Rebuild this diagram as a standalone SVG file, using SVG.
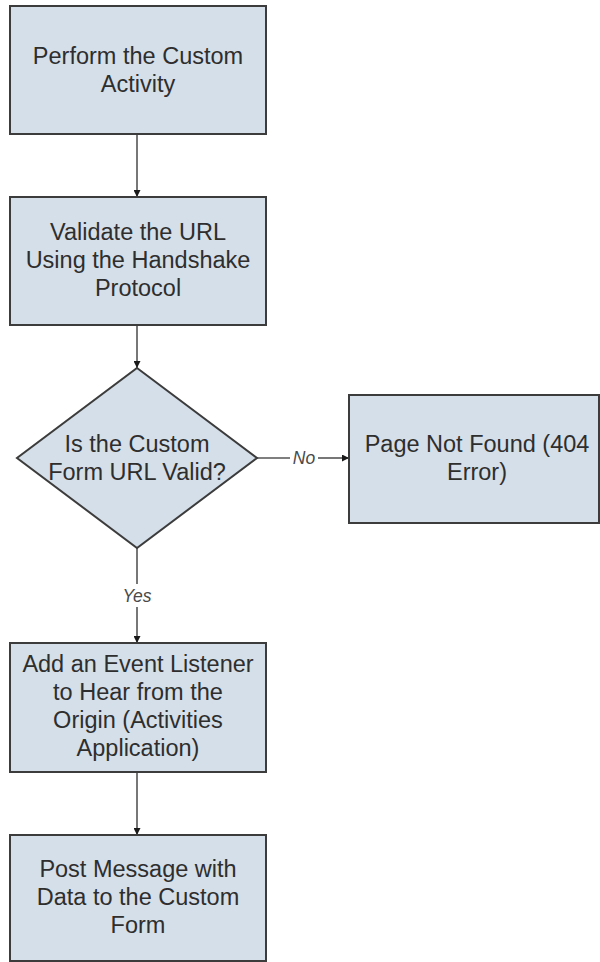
<svg xmlns="http://www.w3.org/2000/svg" width="600" height="962" viewBox="0 0 600 962">
<defs>
<style>
.node{fill:#d5dfe9;stroke:#3c3c3c;stroke-width:2}
.t{font-family:"Liberation Sans",Arial,sans-serif;font-size:23.5px;fill:#2e2e2e;text-anchor:middle}
.lbl{font-family:"Liberation Sans",Arial,sans-serif;font-size:17.5px;font-style:italic;fill:#4a4a4a;text-anchor:middle}
.edge{stroke:#555555;stroke-width:1.6;fill:none}
</style>
<marker id="arr" viewBox="0 0 10 10" refX="10" refY="5" markerWidth="7" markerHeight="7" markerUnits="userSpaceOnUse" orient="auto">
<path d="M0,0 L10,5 L0,10 Z" fill="#1a1a1a"/>
</marker>
</defs>
<rect width="600" height="962" fill="#ffffff"/>
<g id="connectors">
<line class="edge" x1="137" y1="134" x2="137" y2="197" marker-end="url(#arr)"/>
<line class="edge" x1="137" y1="325" x2="137" y2="368" marker-end="url(#arr)"/>
<line class="edge" x1="137" y1="548" x2="137" y2="584"/>
<line class="edge" x1="137" y1="607" x2="137" y2="643" marker-end="url(#arr)"/>
<text class="lbl" x="137" y="602">Yes</text>
<line class="edge" x1="257" y1="458" x2="290" y2="458"/>
<line class="edge" x1="318" y1="458" x2="349" y2="458" marker-end="url(#arr)"/>
<text class="lbl" x="304" y="464">No</text>
<line class="edge" x1="137" y1="772" x2="137" y2="835" marker-end="url(#arr)"/>
</g>
<g id="n1">
<rect class="node" x="10" y="6" width="256" height="128"/>
<text class="t" x="138" y="64">Perform the Custom</text>
<text class="t" x="138" y="92">Activity</text>
</g>
<g id="n2">
<rect class="node" x="10" y="197" width="256" height="128"/>
<text class="t" x="138" y="240">Validate the URL</text>
<text class="t" x="138" y="268">Using the Handshake</text>
<text class="t" x="138" y="296">Protocol</text>
</g>
<g id="n3">
<polygon class="node" points="137,368 257,458 137,548 17,458"/>
<text class="t" x="137" y="452">Is the Custom</text>
<text class="t" x="137" y="480">Form URL Valid?</text>
</g>
<g id="n4">
<rect class="node" x="349" y="395" width="250" height="128"/>
<text class="t" x="477" y="452">Page Not Found (404</text>
<text class="t" x="477" y="480">Error)</text>
</g>
<g id="n5">
<rect class="node" x="10" y="643" width="256" height="129"/>
<text class="t" x="138" y="672">Add an Event Listener</text>
<text class="t" x="138" y="700">to Hear from the</text>
<text class="t" x="138" y="728">Origin (Activities</text>
<text class="t" x="138" y="756">Application)</text>
</g>
<g id="n6">
<rect class="node" x="10" y="835" width="256" height="126"/>
<text class="t" x="138" y="877">Post Message with</text>
<text class="t" x="138" y="905">Data to the Custom</text>
<text class="t" x="138" y="933">Form</text>
</g>
</svg>
